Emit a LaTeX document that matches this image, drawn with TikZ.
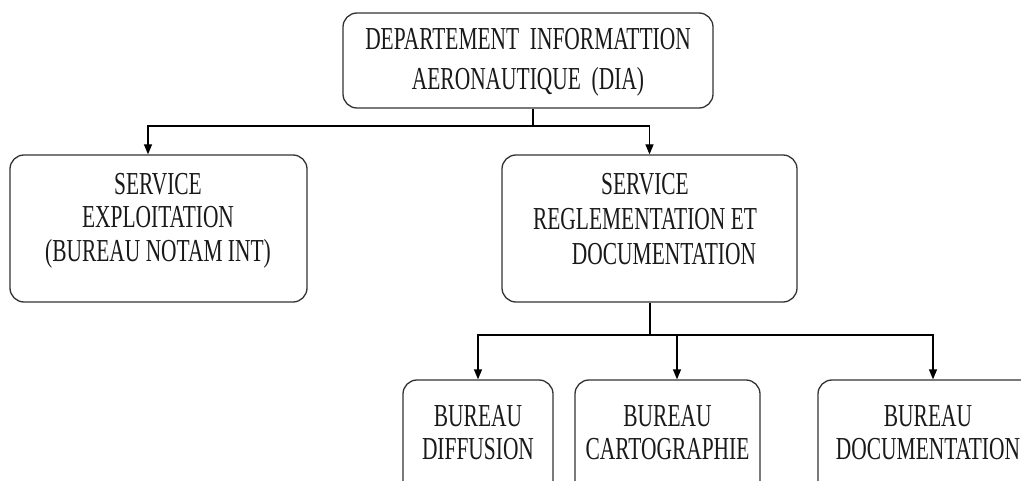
\documentclass[tikz,border=0pt]{standalone}
\usepackage{fontspec}
\setmainfont{Liberation Serif}[FakeStretch=0.67]
\usetikzlibrary{arrows.meta}
\tikzset{
  box/.style={draw=black!80, line width=1.3pt, rounded corners=14pt, rectangle, inner sep=0pt},
  txt/.style={align=center, inner sep=0pt, text=black!90},
  conn/.style={draw=black, line width=1.3pt},
  arrow/.style={conn, -{Triangle[length=10pt,width=8pt]}}
}
\begin{document}
\begin{tikzpicture}[x=1pt, y=-1pt]
\path[use as bounding box, clip] (0,0) rectangle (1021,481);
\fill[white] (0,0) rectangle (1021,481);
% boxes
\node[box, minimum width=370pt, minimum height=95pt] (dia) at (528,60.5) {};
\node[box, minimum width=297pt, minimum height=147pt] (exp) at (158.5,228.5) {};
\node[box, minimum width=295pt, minimum height=147pt] (reg) at (649.5,228.5) {};
\node[box, minimum width=150pt, minimum height=120pt] (dif) at (478,440) {};
\node[box, minimum width=185pt, minimum height=120pt] (car) at (667.5,440) {};
\node[box, minimum width=230pt, minimum height=120pt] (doc) at (933,440) {};
% texts
\node[txt, font=\fontsize{32}{40}\selectfont] (tdia) at (528,62) {DEPARTEMENT\ \ INFORMATTION\\AERONAUTIQUE\ \ (DIA)};
\node[txt, font=\fontsize{32}{33.5}\selectfont] (texp) at (158,220.6) {SERVICE\\EXPLOITATION\\(BUREAU NOTAM INT)};
\node[txt, font=\fontsize{32}{35}\selectfont] (treg) at (645,219.5) {SERVICE\\REGLEMENTATION ET\\\hspace*{38pt}DOCUMENTATION};
\node[txt, font=\fontsize{32}{33}\selectfont] (tdif) at (478,432.5) {BUREAU\\DIFFUSION};
\node[txt, font=\fontsize{32}{33}\selectfont] (tcar) at (667.5,432.5) {BUREAU\\CARTOGRAPHIE};
\node[txt, font=\fontsize{32}{33}\selectfont] (tdoc) at (928,432.5) {BUREAU\\DOCUMENTATION};
% connectors
\coordinate (b1) at (533,126);
\draw[conn] (dia.south -| b1) -- (b1);
\draw[arrow] (b1) -| ([xshift=-10.5pt]exp.north);
\draw[arrow] (b1) -| (reg.north);
\coordinate (b2) at (650,335);
\draw[conn] (reg.south -| b2) -- (b2);
\draw[arrow] (b2) -| (dif.north);
\draw[arrow] (b2) -| ([xshift=9.5pt]car.north);
\draw[arrow] (b2) -| (doc.north);
\end{tikzpicture}
\end{document}
